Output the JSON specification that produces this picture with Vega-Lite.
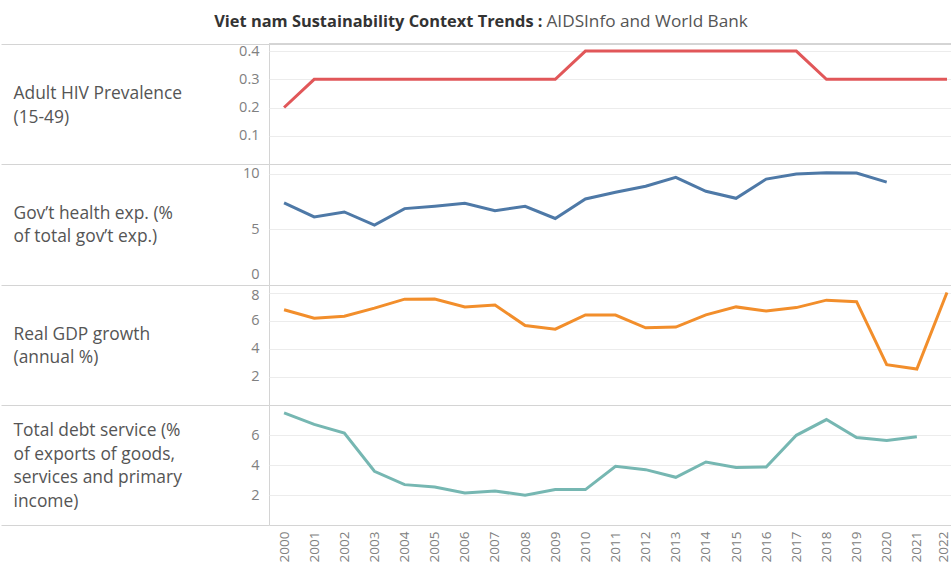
{
  "$schema": "https://vega.github.io/schema/vega-lite/v6.json",
  "padding": {"left": 0, "top": 11, "right": 0, "bottom": 0},
  "autosize": {"type": "pad"},
  "background": "white",
  "bounds": "flush",
  "spacing": 0,
  "config": {
    "font": "Open Sans",
    "view": {"stroke": "#d4d4d4"},
    "axis": {
      "labelFont": "Open Sans",
      "titleFont": "Open Sans",
      "labelColor": "#808080",
      "labelFontSize": 14.5,
      "titleFontWeight": "normal",
      "titleColor": "#555555",
      "titleFontSize": 17.4,
      "labelOverlap": false,
      "labelFlush": false
    }
  },
  "datasets": {
    "hiv": [
      {"year": 2000, "value": 0.2}, {"year": 2001, "value": 0.3}, {"year": 2002, "value": 0.3}, {"year": 2003, "value": 0.3},
      {"year": 2004, "value": 0.3}, {"year": 2005, "value": 0.3}, {"year": 2006, "value": 0.3}, {"year": 2007, "value": 0.3},
      {"year": 2008, "value": 0.3}, {"year": 2009, "value": 0.3}, {"year": 2010, "value": 0.4}, {"year": 2011, "value": 0.4},
      {"year": 2012, "value": 0.4}, {"year": 2013, "value": 0.4}, {"year": 2014, "value": 0.4}, {"year": 2015, "value": 0.4},
      {"year": 2016, "value": 0.4}, {"year": 2017, "value": 0.4}, {"year": 2018, "value": 0.3}, {"year": 2019, "value": 0.3},
      {"year": 2020, "value": 0.3}, {"year": 2021, "value": 0.3}, {"year": 2022, "value": 0.3}
    ],
    "health": [
      {"year": 2000, "value": 7.39}, {"year": 2001, "value": 6.13}, {"year": 2002, "value": 6.58}, {"year": 2003, "value": 5.39},
      {"year": 2004, "value": 6.88}, {"year": 2005, "value": 7.09}, {"year": 2006, "value": 7.36}, {"year": 2007, "value": 6.7},
      {"year": 2008, "value": 7.09}, {"year": 2009, "value": 5.99}, {"year": 2010, "value": 7.75}, {"year": 2011, "value": 8.35},
      {"year": 2012, "value": 8.89}, {"year": 2013, "value": 9.69}, {"year": 2014, "value": 8.44}, {"year": 2015, "value": 7.81},
      {"year": 2016, "value": 9.54}, {"year": 2017, "value": 9.99}, {"year": 2018, "value": 10.11}, {"year": 2019, "value": 10.08},
      {"year": 2020, "value": 9.27}
    ],
    "gdp": [
      {"year": 2000, "value": 6.79}, {"year": 2001, "value": 6.19}, {"year": 2002, "value": 6.32}, {"year": 2003, "value": 6.9},
      {"year": 2004, "value": 7.54}, {"year": 2005, "value": 7.55}, {"year": 2006, "value": 6.98}, {"year": 2007, "value": 7.13},
      {"year": 2008, "value": 5.66}, {"year": 2009, "value": 5.4}, {"year": 2010, "value": 6.42}, {"year": 2011, "value": 6.41},
      {"year": 2012, "value": 5.5}, {"year": 2013, "value": 5.55}, {"year": 2014, "value": 6.42}, {"year": 2015, "value": 6.99},
      {"year": 2016, "value": 6.69}, {"year": 2017, "value": 6.94}, {"year": 2018, "value": 7.47}, {"year": 2019, "value": 7.36},
      {"year": 2020, "value": 2.87}, {"year": 2021, "value": 2.56}, {"year": 2022, "value": 8.02}
    ],
    "debt": [
      {"year": 2000, "value": 7.47}, {"year": 2001, "value": 6.71}, {"year": 2002, "value": 6.13}, {"year": 2003, "value": 3.58},
      {"year": 2004, "value": 2.69}, {"year": 2005, "value": 2.53}, {"year": 2006, "value": 2.13}, {"year": 2007, "value": 2.27},
      {"year": 2008, "value": 1.98}, {"year": 2009, "value": 2.36}, {"year": 2010, "value": 2.36}, {"year": 2011, "value": 3.91},
      {"year": 2012, "value": 3.69}, {"year": 2013, "value": 3.18}, {"year": 2014, "value": 4.2}, {"year": 2015, "value": 3.83},
      {"year": 2016, "value": 3.87}, {"year": 2017, "value": 5.98}, {"year": 2018, "value": 7.03}, {"year": 2019, "value": 5.83},
      {"year": 2020, "value": 5.63}, {"year": 2021, "value": 5.89}
    ]
  },
  "vconcat": [
    {
      "width": 684,
      "height": 120,
      "data": {"name": "hiv"},
      "layer": [
        {
          "mark": {"type": "line", "color": "#e15759", "strokeWidth": 3},
          "encoding": {
            "x": {
              "field": "year", "type": "quantitative",
              "scale": {"domain": [1999.5, 2022.2], "nice": false, "zero": false},
              "axis": {"orient": "top", "labels": false, "ticks": false, "domain": false, "grid": false,
                "title": "AIDSInfo and World Bank", "titleX": 277, "titleY": -23, "titleAlign": "left",
                "titleBaseline": "middle", "titleAngle": 0, "titleFontWeight": "normal", "titleFontSize": 17.2,
                "titleColor": "#555555", "titlePadding": 0}
            },
            "y": {
              "field": "value", "type": "quantitative",
              "scale": {"domain": [0, 0.425], "nice": false, "zero": true},
              "axis": {
                "values": [0.1, 0.2, 0.3, 0.4, 0.425], "format": ".1f",
                "labelExpr": "datum.value > 0.41 ? '' : datum.label",
                "domain": false, "ticks": true, "tickSize": 268,
                "tickColor": {"condition": {"test": "datum.value > 0.41", "value": "#d4d4d4"}, "value": "rgba(0,0,0,0)"},
                "labelPadding": -258,
                "grid": true,
                "gridColor": {"condition": {"test": "datum.value > 0.41", "value": "rgba(0,0,0,0)"}, "value": "#ececec"},
                "title": ["Adult HIV Prevalence", "(15-49)"],
                "titleX": -256, "titleY": 49.7, "titleAngle": 0, "titleAlign": "left", "titleBaseline": "middle",
                "titleLineHeight": 23.5
              }
            }
          }
        },
        {
          "mark": {"type": "rule", "color": "#d4d4d4"},
          "encoding": {
            "y": {
              "datum": 0.425, "type": "quantitative",
              "axis": {"orient": "right", "labels": false, "ticks": false, "domain": false, "grid": false,
                "title": "Viet nam Sustainability Context Trends :", "titleX": -411, "titleY": -23,
                "titleAngle": 0, "titleAlign": "right", "titleBaseline": "middle",
                "titleFontWeight": "bold", "titleFontSize": 16.4, "titleColor": "#333333"}
            }
          }
        }
      ],
      "resolve": {"axis": {"y": "independent"}}
    },
    {
      "width": 684,
      "height": 121,
      "data": {"name": "health"},
      "mark": {"type": "line", "color": "#4e79a7", "strokeWidth": 3},
      "encoding": {
        "x": {
          "field": "year", "type": "quantitative",
          "scale": {"domain": [1999.5, 2022.2], "nice": false, "zero": false},
          "axis": null
        },
        "y": {
          "field": "value", "type": "quantitative",
          "scale": {"domain": [0, 10.9], "nice": false, "zero": true},
          "axis": {
            "values": [0, 5, 10, 10.9], "format": "d",
            "labelExpr": "datum.value > 10.5 ? '' : datum.label",
            "labelOffset": {"condition": {"test": "datum.value == 0", "value": -11}, "value": 0},
            "domain": false, "ticks": true, "tickSize": 268,
            "tickColor": {"condition": {"test": "datum.value > 10.5", "value": "#d4d4d4"}, "value": "rgba(0,0,0,0)"},
            "labelPadding": -258,
            "grid": true,
            "gridColor": {"condition": {"test": "datum.value > 10.5 || datum.value == 0", "value": "rgba(0,0,0,0)"}, "value": "#ececec"},
            "title": ["Gov\u2019t health exp. (%", "of total gov\u2019t exp.)"],
            "titleX": -256, "titleY": 49.3, "titleAngle": 0, "titleAlign": "left", "titleBaseline": "middle",
            "titleLineHeight": 23.5
          }
        }
      }
    },
    {
      "width": 684,
      "height": 120,
      "data": {"name": "gdp"},
      "mark": {"type": "line", "color": "#f28e2b", "strokeWidth": 3},
      "encoding": {
        "x": {
          "field": "year", "type": "quantitative",
          "scale": {"domain": [1999.5, 2022.2], "nice": false, "zero": false},
          "axis": null
        },
        "y": {
          "field": "value", "type": "quantitative",
          "scale": {"domain": [0, 8.55], "nice": false, "zero": true},
          "axis": {
            "values": [2, 4, 6, 8, 8.55], "format": "d",
            "labelExpr": "datum.value > 8.3 ? '' : datum.label",
            "labelOffset": {"condition": {"test": "datum.value == 8", "value": 3}, "value": 0},
            "domain": false, "ticks": true, "tickSize": 268,
            "tickColor": {"condition": {"test": "datum.value > 8.3", "value": "#d4d4d4"}, "value": "rgba(0,0,0,0)"},
            "labelPadding": -258,
            "grid": true,
            "gridColor": {"condition": {"test": "datum.value > 8.3", "value": "rgba(0,0,0,0)"}, "value": "#ececec"},
            "title": ["Real GDP growth", "(annual %)"],
            "titleX": -256, "titleY": 49, "titleAngle": 0, "titleAlign": "left", "titleBaseline": "middle",
            "titleLineHeight": 23.5
          }
        }
      }
    },
    {
      "width": 684,
      "height": 120,
      "data": {"name": "debt"},
      "mark": {"type": "line", "color": "#76b7b2", "strokeWidth": 3},
      "encoding": {
        "x": {
          "field": "year", "type": "quantitative",
          "scale": {"domain": [1999.5, 2022.2], "nice": false, "zero": false},
          "axis": {
            "orient": "bottom",
            "values": [2000, 2001, 2002, 2003, 2004, 2005, 2006, 2007, 2008, 2009, 2010, 2011, 2012, 2013, 2014, 2015, 2016, 2017, 2018, 2019, 2020, 2021, 2022],
            "format": "d", "labelAngle": -90, "labelFontSize": 13.5, "labelPadding": 6,
            "labelOffset": {"condition": {"test": "datum.value == 2022", "value": -3}, "value": 0},
            "ticks": false, "domain": false, "grid": false, "title": null
          }
        },
        "y": {
          "field": "value", "type": "quantitative",
          "scale": {"domain": [0, 8], "nice": false, "zero": true},
          "axis": {
            "values": [0, 2, 4, 6, 8], "format": "d",
            "labelExpr": "(datum.value == 0 || datum.value == 8) ? '' : datum.label",
            "domain": false, "ticks": true, "tickSize": 268,
            "tickColor": {"condition": {"test": "datum.value == 0 || datum.value == 8", "value": "#d4d4d4"}, "value": "rgba(0,0,0,0)"},
            "labelPadding": -258,
            "grid": true,
            "gridColor": {"condition": {"test": "datum.value == 0 || datum.value == 8", "value": "rgba(0,0,0,0)"}, "value": "#ececec"},
            "title": ["Total debt service (%", "of exports of goods,", "services and primary", "income)"],
            "titleX": -256, "titleY": 25.7, "titleAngle": 0, "titleAlign": "left", "titleBaseline": "middle",
            "titleLineHeight": 23.5
          }
        }
      }
    }
  ]
}
